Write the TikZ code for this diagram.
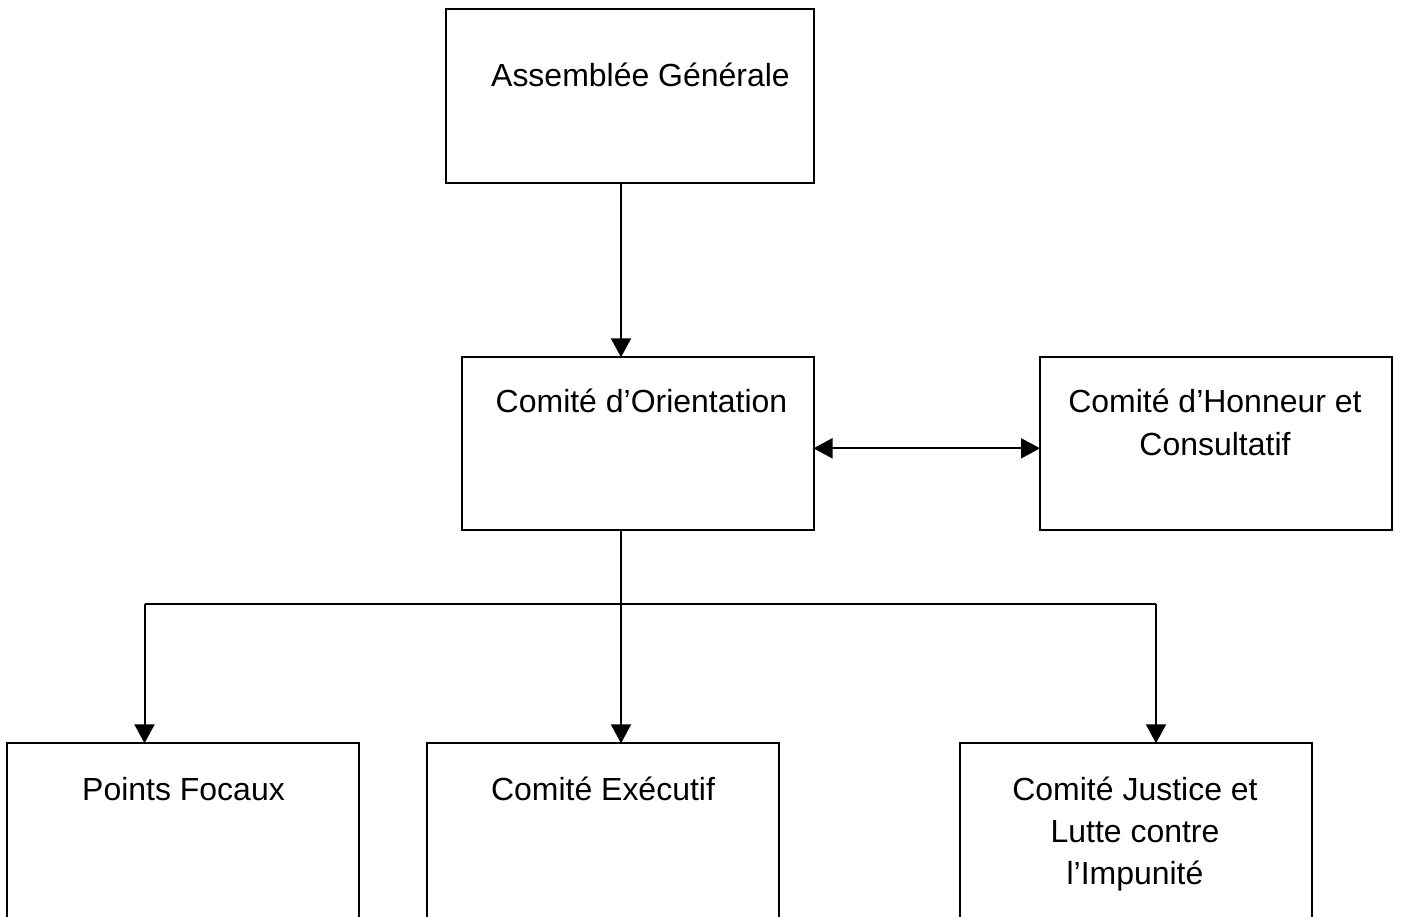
\documentclass[tikz,border=0pt]{standalone}
\usepackage{fontspec}
\setmainfont{Liberation Sans}
\usetikzlibrary{arrows.meta}
\begin{document}
\begin{tikzpicture}[x=0.1mm,y=-0.1mm,
  box/.style={draw, line width=0.2mm, anchor=north west, inner sep=0pt, outer sep=0pt},
  lbl/.style={font=\fontsize{9.1pt}{12.0pt}\selectfont, align=center, anchor=base, inner sep=0pt},
  link/.style={line width=0.2mm},
  conn/.style={link, -{Triangle[length=1.9mm,width=2mm]}},
  dconn/.style={link, {Triangle[length=1.9mm,width=2mm]}-{Triangle[length=1.9mm,width=2mm]}},
  ]
\clip (0,0) rectangle (1401,916);
% boxes
\node[box, minimum width=36.8mm, minimum height=17.35mm] (ag) at (445.5,9.3) {};
\node[box, minimum width=35.2mm, minimum height=17.3mm] (co) at (461.5,357.3) {};
\node[box, minimum width=35.2mm, minimum height=17.3mm] (ch) at (1040,357.3) {};
\node[box, minimum width=35.2mm, minimum height=25mm] (pf) at (7.3,743.3) {};
\node[box, minimum width=35.2mm, minimum height=25mm] (ce) at (426.7,743.3) {};
\node[box, minimum width=35.2mm, minimum height=25mm] (cj) at (960,743.3) {};
% texts (anchor base = baseline of the last line)
\node[lbl] (tag) at (640.5,86) {Assemblée Générale};
\node[lbl] (tco) at (641.5,412.7) {Comité d’Orientation};
\node[lbl] (tch) at (1215,455) {Comité d’Honneur et\\Consultatif};
\node[lbl] (tpf) at (183.5,800) {Points Focaux};
\node[lbl] (tce) at (603,800) {Comité Exécutif};
\node[lbl] (tcj) at (1135,884.4) {Comité Justice et\\Lutte contre\\l’Impunité};
% connector points
\coordinate (spine) at (621,603.5);
\coordinate (bl) at (144.5,603.5);
\coordinate (br) at (1156,603.5);
% connectors
\draw[conn] (ag.south -| spine) -- (co.north -| spine);
\draw[link] (co.south -| spine) -- (spine);
\draw[link] (bl) -- (br);
\draw[conn] (bl) -- (bl |- pf.north);
\draw[conn] (spine) -- (spine |- ce.north);
\draw[conn] (br) -- (br |- cj.north);
\draw[dconn] (co.east |- 0,448.3) -- (ch.west |- 0,448.3);
\end{tikzpicture}
\end{document}
